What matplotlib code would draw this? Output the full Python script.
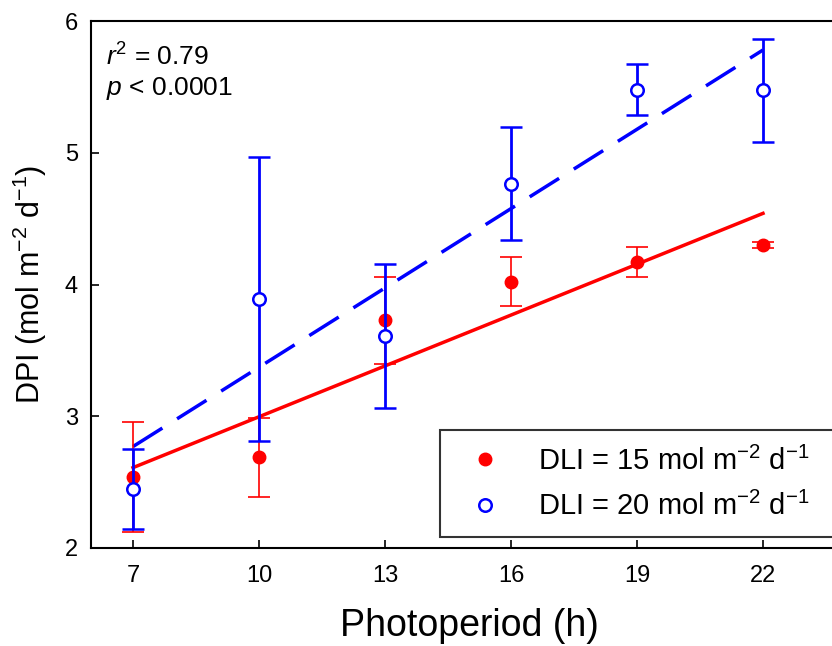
import numpy as np
import matplotlib.pyplot as plt
from matplotlib.lines import Line2D

# data
photoperiod = [7, 10, 13, 16, 19, 22]

dpi_15 = [2.54, 2.69, 3.73, 4.02, 4.17, 4.30]
err_15 = [0.42, 0.30, 0.33, 0.185, 0.115, 0.02]

dpi_20 = [2.45, 3.89, 3.61, 4.765, 5.48, 5.475]
err_20 = [0.305, 1.08, 0.545, 0.43, 0.19, 0.39]

# regression line end points (at 7 h and 22 h)
fit_x = [7, 22]
fit_15 = [2.61, 4.54]
fit_20 = [2.77, 5.78]

plt.rcParams['font.family'] = ['Liberation Sans', 'DejaVu Sans']
plt.rcParams['mathtext.fontset'] = 'custom'
plt.rcParams['mathtext.rm'] = 'Liberation Sans'
plt.rcParams['mathtext.it'] = 'Liberation Sans:italic'

fig = plt.figure(figsize=(8.32, 6.46), dpi=100)
ax = fig.add_axes([91 / 832, 98 / 646, 756 / 832, 527 / 646])

# fitted lines
ax.plot(fit_x, fit_15, color='red', lw=2.5, zorder=2)
ax.plot(fit_x, fit_20, color='blue', lw=2.5, dashes=(10, 5), zorder=2)

# means with error bars
ax.errorbar(photoperiod, dpi_15, yerr=err_15, fmt='o', color='red', ms=9,
            elinewidth=1.2, capsize=8, capthick=1.2, zorder=3)
ax.errorbar(photoperiod, dpi_20, yerr=err_20, fmt='o', color='blue', ms=9,
            mfc='white', mec='blue', mew=1.8,
            elinewidth=2, capsize=8, capthick=2, zorder=4)

ax.set_xlim(6, 24)
ax.set_ylim(2, 6)
ax.set_xticks(photoperiod)
ax.set_yticks([2, 3, 4, 5, 6])
ax.tick_params(direction='in', length=6, width=1.2, labelsize=17)
ax.tick_params(axis='y', pad=9.5)
ax.tick_params(axis='x', pad=12)
for s in ax.spines.values():
    s.set_linewidth(1.5)

ax.set_xlabel('Photoperiod (h)', fontsize=27, labelpad=15)
ax.set_ylabel(r'DPI (mol m$^{-2}$ d$^{-1}$)', fontsize=22)
ax.yaxis.set_label_coords(-0.055, 0.5)

ax.text(0.02, 0.958, '$r^2$ = 0.79\n$p$ < 0.0001', transform=ax.transAxes,
        fontsize=19, va='top', ha='left', linespacing=1.25)

handles = [
    Line2D([], [], ls='none', marker='o', color='red', ms=9),
    Line2D([], [], ls='none', marker='o', color='blue', mfc='white', mew=1.8, ms=9),
]
labels = [r'DLI = 15 mol m$^{-2}$ d$^{-1}$', r'DLI = 20 mol m$^{-2}$ d$^{-1}$']
# legend box runs past the right edge of the picture, as in the original
leg = ax.legend(handles, labels, loc='lower left',
                bbox_to_anchor=(0.462, 0.021, 0.6, 0.2), mode='expand',
                borderaxespad=0, fontsize=21, frameon=True, fancybox=False,
                edgecolor='black', handlelength=2.0, handletextpad=0.8,
                borderpad=0.55, labelspacing=0.55)
leg.get_frame().set_linewidth(1.5)

fig.savefig('out.png', dpi=100)
